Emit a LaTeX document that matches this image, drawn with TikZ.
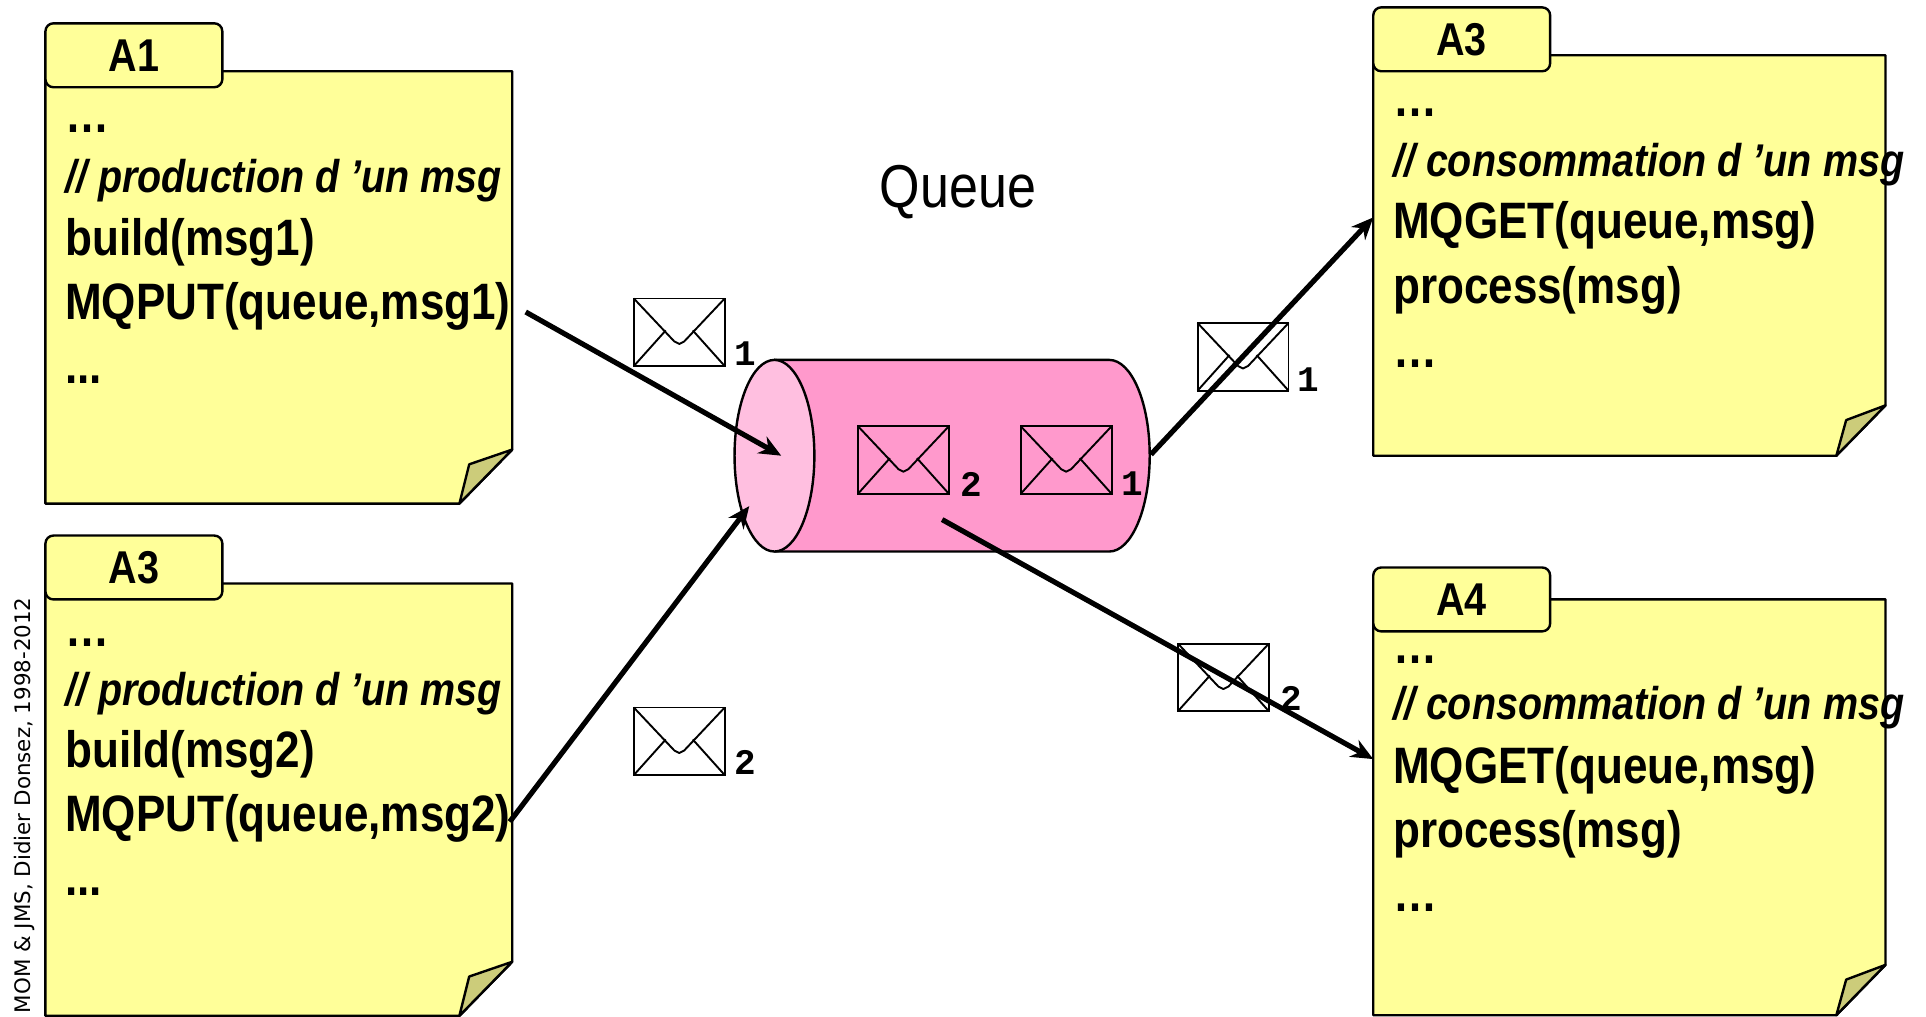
\documentclass[tikz,border=0pt]{standalone}
\usepackage{fontspec}
\usetikzlibrary{arrows.meta}
\setmainfont{Liberation Sans}
\newfontfamily\nar[FakeStretch=0.86]{Liberation Sans}
\newfontfamily\numf{Liberation Mono}
\newfontfamily\vrd{DejaVu Sans}
\definecolor{noteY}{HTML}{FFFF99}
\definecolor{foldY}{HTML}{CCCC7A}
\definecolor{pinkA}{HTML}{FF99CC}
\definecolor{pinkB}{HTML}{FFBFE0}
\tikzset{
  notebody/.style={draw=black,line width=2.4pt,fill=noteY,line join=round},
  foldpart/.style={draw=black,line width=2.4pt,fill=foldY,line join=round},
  tabbox/.style={draw=black,line width=2.4pt,fill=noteY,rounded corners=8pt,minimum width=176.9pt,minimum height=63.9pt,inner sep=0pt,font=\nar\fontsize{46}{46}\selectfont\bfseries},
  codeline/.style={anchor=base west,inner sep=0pt,font=\nar\fontsize{51.2}{52}\selectfont\bfseries},
  commentline/.style={anchor=base west,inner sep=0pt,font=\nar\fontsize{45.9}{46}\selectfont\bfseries\itshape},
  numlabel/.style={inner sep=0pt,font=\numf\fontsize{36}{36}\selectfont\bfseries},
  flow/.style={draw=black,line width=5.2pt,-{Stealth[length=22pt,width=19pt]}},
  envelopeline/.style={draw=black,line width=1.9pt}
}
\newcommand{\envelop}[2]{%
  \begin{scope}[shift={(#1,#2)}]
    \draw[envelopeline] (0,0) rectangle (74,55);
    \draw[envelopeline,line join=round] (0,0) -- (33,35) -- (37,37) -- (41,35) -- (74,0);
    \draw[envelopeline] (0,55) -- (26,26);
    \draw[envelopeline] (74,55) -- (48,26);
  \end{scope}}
\newcommand{\sticky}[8]{% name, tab label, top of tab, top of body, bottom, left, right, fold size
  \draw[notebody] (#6,#4) -- (#7,#4) -- (#7,#5-#8-1) -- (#7-#8,#5) -- (#6,#5) -- cycle;
  \draw[foldpart] (#7,#5-#8-1) -- (#7-#8+8,#5-#8+11) -- (#7-#8,#5) -- cycle;
  \node[tabbox] (#1tab) at (#6+72,#3+26) {\raisebox{-3pt}{#2}};}
\begin{document}
\begin{tikzpicture}[x=1.2283pt,y=-1.2283pt]
\useasboundingbox (0,0) rectangle (1568,827.2);
% notes
\sticky{pa}{A1}{19}{58}{410}{37}{417}{43}
\sticky{pb}{A3}{436}{475}{827}{37}{417}{43}
\sticky{ca}{A3}{6}{45}{371}{1118}{1535}{40}
\sticky{cb}{A4}{462}{488}{826.5}{1118}{1535}{40}
% left texts
\node[codeline] (pa0) at (53,108) {…};
\node[commentline] (pa1) at (53,157) {// production d ’un msg};
\node[codeline] (pa2) at (53,208) {build(msg1)};
\node[codeline] (pa3) at (53,260) {MQPUT(queue,msg1)};
\node[codeline] (pa4) at (53,312) {...};
\node[codeline] (pb0) at (53,526) {…};
\node[commentline] (pb1) at (53,574) {// production d ’un msg};
\node[codeline] (pb2) at (53,625) {build(msg2)};
\node[codeline] (pb3) at (53,677) {MQPUT(queue,msg2)};
\node[codeline] (pb4) at (53,729) {...};
% right texts
\node[codeline] (ca0) at (1134,95) {…};
\node[commentline] (ca1) at (1134,143.5) {// consommation d ’un msg};
\node[codeline] (ca2) at (1134,194.5) {MQGET(queue,msg)};
\node[codeline] (ca3) at (1134,247) {process(msg)};
\node[codeline] (ca4) at (1134,299) {…};
\node[codeline] (cb0) at (1134,540) {…};
\node[commentline] (cb1) at (1134,586) {// consommation d ’un msg};
\node[codeline] (cb2) at (1134,637.5) {MQGET(queue,msg)};
\node[codeline] (cb3) at (1134,690) {process(msg)};
\node[codeline] (cb4) at (1134,742) {…};
% title and side text
\node[inner sep=0pt,font=\nar\fontsize{60.5}{60}\selectfont] (qtitle) at (780,156) {Queue};
\node[rotate=90,anchor=base west,inner sep=0pt,font=\vrd\fontsize{21.4}{21.4}\selectfont] (credit) at (25,825) {MOM \& JMS, Didier Donsez, 1998-2012};
% queue
\draw[line width=2.4pt,fill=pinkA] (631,293) -- (903,293) arc[start angle=-90,end angle=90,x radius=33,y radius=78] -- (631,449) -- cycle;
\draw[line width=2.4pt,fill=pinkB] (630.5,371) ellipse[x radius=32.5,y radius=78];
% envelopes
\envelop{516}{243}\node[numlabel] (n1) at (607,288) {1};
\envelop{516}{576}\node[numlabel] (n2) at (607,621) {2};
\envelop{698.5}{347}\node[numlabel] (n3) at (790.5,394) {2};
\envelop{831}{347}\node[numlabel] (n4) at (922,394) {1};
\envelop{975}{263}\node[numlabel] (n5) at (1065.5,309) {1};
\envelop{959}{524}\node[numlabel] (n6) at (1051,569) {2};
% connectors
\coordinate (s1) at (428,254); \coordinate (t1) at (636,371);
\coordinate (s2) at (415,669); \coordinate (t2) at (610,412);
\coordinate (s3) at (937,370); \coordinate (t3) at (1118,177);
\coordinate (s4) at (767,423); \coordinate (t4) at (1118,618);
\draw[flow] (s1) -- (t1);
\draw[flow] (s2) -- (t2);
\draw[flow] (s3) -- (t3);
\draw[flow] (s4) -- (t4);
\end{tikzpicture}
\end{document}
